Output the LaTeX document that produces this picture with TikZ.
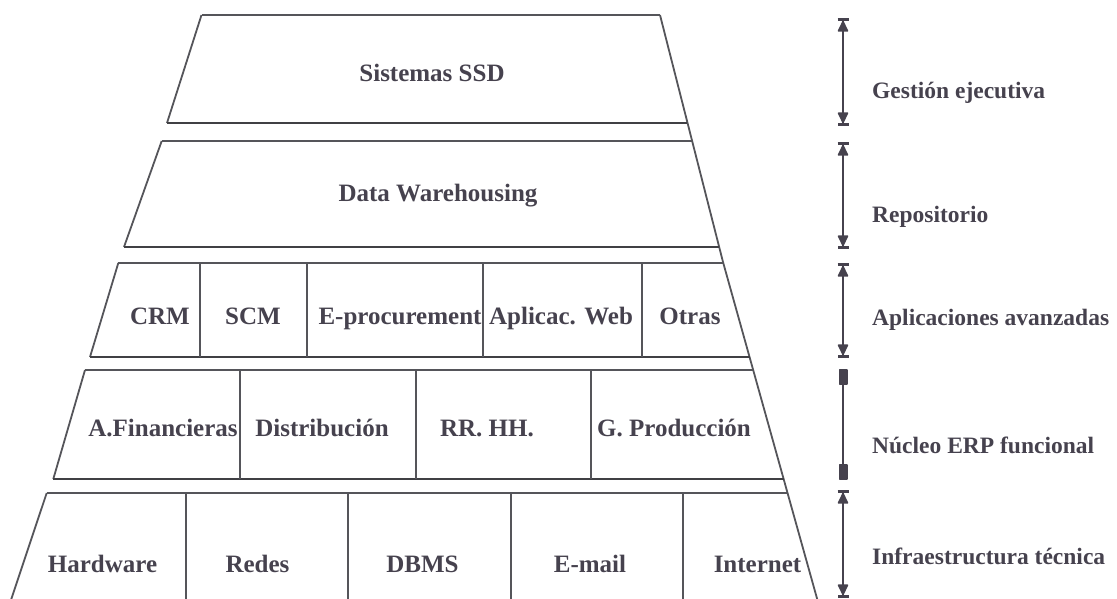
\documentclass[tikz,border=0pt]{standalone}
\usepackage{fontspec}
\setmainfont{Liberation Serif}
\usetikzlibrary{arrows.meta}
\definecolor{edge}{HTML}{55555A}
\definecolor{ink}{HTML}{46424E}
\tikzset{
  layer/.style={draw=edge, line width=1.8pt, line join=round},
  base/.style={draw=edge!75!black, line width=2.2pt},
  lbl/.style={text=ink, font=\fontsize{25}{28}\selectfont\bfseries, inner sep=0pt, anchor=base},
  side/.style={text=ink, font=\fontsize{23.5}{26}\selectfont\bfseries, inner sep=0pt, anchor=base west},
  span/.style={draw=ink, line width=1.8pt,
    {Bar[width=11pt,line width=3pt]Triangle[width=11pt,length=12pt,round]}-{Triangle[width=11pt,length=12pt,round]Bar[width=11pt,line width=3pt]}},
  roundspan/.style={draw=ink, line width=1.8pt,
    {Rectangle[width=9pt,length=16pt,round]}-{Rectangle[width=9pt,length=16pt,round]}},
}
\begin{document}
\begin{tikzpicture}[x=1pt,y=-1pt]
\useasboundingbox (0,0) rectangle (1117,598);
\begin{scope}
\clip (0,0) rectangle (1117,598);

% common right edge of the stack
\draw[layer] (660,15) -- (723,262) -- (818,602);

% layer 1
\draw[layer] (201.5,15) -- (167,123);
\draw[layer] (201.5,15) -- (660,15);
\draw[base] (167,123) -- (687.3,123);

% layer 2
\draw[layer] (161.7,141) -- (124,247);
\draw[layer] (161.7,141) -- (691.9,141);
\draw[base] (124,247) -- (718.7,247);

% layer 3
\draw[layer] (118.3,263) -- (90,357);
\draw[layer] (118.3,263) -- (723.3,263);
\draw[base] (90,357) -- (749.7,357);
\foreach \x in {200,307,483,642} \draw[layer] (\x,263) -- (\x,357);

% layer 4
\draw[layer] (85,370) -- (53.3,479);
\draw[layer] (85,370) -- (753.3,370);
\draw[base, line width=2.8pt] (53.3,479) -- (783.9,479);
\foreach \x in {240,416,591} \draw[layer] (\x,370) -- (\x,479);

% layer 5
\draw[layer] (46.7,493) -- (11,600);
\draw[layer] (46.7,493) -- (787.8,493);
\foreach \x in {186,348,511,683} \draw[layer] (\x,493) -- (\x,600);

% level spans
\coordinate (a1t) at (843,18);  \coordinate (a1b) at (843,126);
\coordinate (a2t) at (843,142); \coordinate (a2b) at (843,249);
\coordinate (a3t) at (843,263); \coordinate (a3b) at (843,358);
\coordinate (a4t) at (843,369); \coordinate (a4b) at (843,480);
\coordinate (a5t) at (843,490); \coordinate (a5b) at (843,598);
\draw[span] (a1t) -- (a1b);
\draw[span] (a2t) -- (a2b);
\draw[span] (a3t) -- (a3b);
\draw[roundspan] (a4t) -- (a4b);
\draw[span] (a5t) -- (a5b);
\end{scope}

% block labels
\node[lbl] (ssd) at (432,81.5) {Sistemas SSD};
\node[lbl] (dw)  at (438,201.5) {Data Warehousing};

\node[lbl] (crm)  at (160,324) {CRM};
\node[lbl] (scm)  at (253,324) {SCM};
\node[lbl] (eproc) at (400,324) {E-procurement};
\node[lbl] (web)  at (561,324) {Aplicac. Web};
\node[lbl] (otr)  at (690,324) {Otras};

\node[lbl] (fin)  at (163,436) {A.Financieras};
\node[lbl] (dist) at (322,436) {Distribución};
\node[lbl] (rrhh) at (487,436) {RR. HH.};
\node[lbl] (prod) at (674,436) {G. Producción};

\node[lbl] (hw)   at (102.5,572) {Hardware};
\node[lbl] (red)  at (257.5,572) {Redes};
\node[lbl] (dbms) at (422.5,572) {DBMS};
\node[lbl] (mail) at (590,572) {E-mail};
\node[lbl] (inet) at (757.5,572) {Internet};

% level names
\node[side] (l1) at (872,98)  {Gestión ejecutiva};
\node[side] (l2) at (872,222) {Repositorio};
\node[side] (l3) at (872,325) {Aplicaciones avanzadas};
\node[side] (l4) at (872,453) {Núcleo ERP funcional};
\node[side] (l5) at (872,564) {Infraestructura técnica};
\end{tikzpicture}
\end{document}
